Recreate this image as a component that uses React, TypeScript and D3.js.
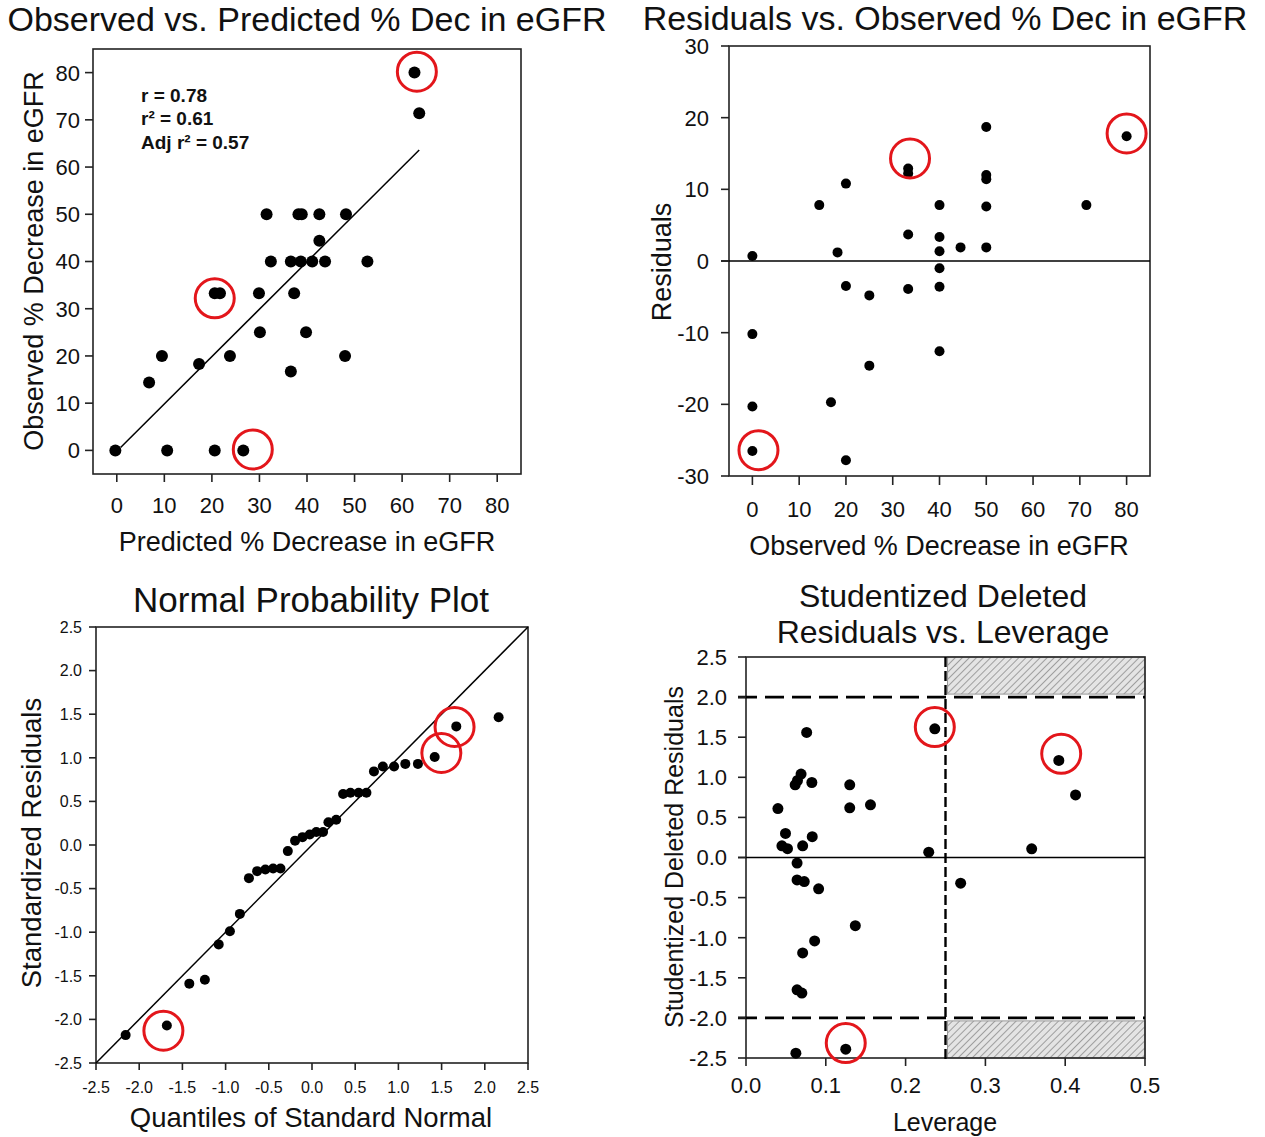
import React from 'react';
import * as d3 from 'd3';

const FONT = '"Liberation Sans", Arial, Helvetica, sans-serif';
const INK = '#111';
const RED = '#e3161b';

// ---------- Panel 1: Observed vs Predicted ----------
const p1Predicted = [62.6, 63.6, 31.5, 38.2, 38.9, 42.6, 48.2, 42.6, 32.4, 36.6, 38.7, 41.1, 43.8, 52.7, 20.6, 21.7, 29.9, 37.3, 30.1, 39.8, 9.5, 23.8, 48.0, 17.3, 36.6, 6.8, -0.3, 10.6, 20.6, 26.6];
const p1Observed = [80, 71.4, 50, 50, 50, 50, 50, 44.4, 40, 40, 40, 40, 40, 40, 33.3, 33.3, 33.3, 33.3, 25, 25, 20, 20, 20, 18.3, 16.7, 14.4, 0, 0, 0, 0];
const p1FitPredicted = [0.8, 63.6];
const p1FitObserved = [0.6, 63.6];
const p1Ticks = [0, 10, 20, 30, 40, 50, 60, 70, 80];
const p1Stats = ['r = 0.78', 'r² = 0.61', 'Adj r² = 0.57'];
const p1HighlightX = [63.1, 20.6, 28.6];
const p1HighlightY = [80.2, 32.2, 0.2];

// ---------- Panel 2: Residuals vs Observed ----------
const p2Observed = [0, 0, 0, 0, 14.3, 18.2, 16.8, 20, 20, 20, 25, 25, 33.3, 33.3, 33.3, 33.3, 40, 40, 40, 40, 40, 40, 44.5, 50, 50, 50, 50, 50, 71.4, 80];
const p2Residual = [0.7, -10.2, -20.3, -26.5, 7.8, 1.2, -19.7, 10.8, -3.5, -27.8, -4.8, -14.6, 12.9, 12.2, 3.7, -3.9, 7.8, 3.35, 1.35, -1.0, -3.6, -12.6, 1.9, 18.7, 12.0, 11.4, 7.6, 1.9, 7.8, 17.4];
const p2XTicks = [0, 10, 20, 30, 40, 50, 60, 70, 80];
const p2YTicks = [-30, -20, -10, 0, 10, 20, 30];
const p2HighlightX = [1.3, 33.7, 80];
const p2HighlightY = [-26.4, 14.3, 17.8];

// ---------- Panel 3: Normal probability plot ----------
const p3Quantile = [-2.157, -1.68, -1.42, -1.24, -1.08, -0.95, -0.835, -0.73, -0.635, -0.54, -0.45, -0.365, -0.28, -0.196, -0.11, -0.026, 0.05, 0.128, 0.19, 0.28, 0.36, 0.445, 0.54, 0.63, 0.717, 0.82, 0.95, 1.08, 1.226, 1.42, 1.67, 2.16];
const p3StdResid = [-2.18, -2.07, -1.59, -1.545, -1.14, -0.99, -0.79, -0.38, -0.30, -0.28, -0.27, -0.27, -0.07, 0.05, 0.09, 0.12, 0.15, 0.15, 0.26, 0.29, 0.585, 0.60, 0.60, 0.60, 0.844, 0.90, 0.90, 0.93, 0.93, 1.01, 1.36, 1.465];
const p3Ticks = [-2.5, -2.0, -1.5, -1.0, -0.5, 0.0, 0.5, 1.0, 1.5, 2.0, 2.5];
const p3RefLine = [-2.5, 2.5];
const p3HighlightX = [-1.72, 1.497, 1.65];
const p3HighlightY = [-2.13, 1.055, 1.353];

// ---------- Panel 4: Studentized deleted residuals vs leverage ----------
const p4Leverage = [0.040, 0.0495, 0.045, 0.052, 0.064, 0.0616, 0.0645, 0.069, 0.076, 0.0825, 0.071, 0.083, 0.064, 0.073, 0.091, 0.071, 0.086, 0.064, 0.070, 0.0625, 0.125, 0.130, 0.130, 0.156, 0.137, 0.229, 0.2366, 0.269, 0.358, 0.392, 0.413];
const p4StudRes = [0.61, 0.30, 0.146, 0.11, -0.07, 0.906, 0.96, 1.04, 1.56, 0.935, 0.146, 0.26, -0.28, -0.30, -0.39, -1.19, -1.04, -1.65, -1.69, -2.44, -2.39, 0.906, 0.62, 0.657, -0.85, 0.067, 1.605, -0.32, 0.108, 1.21, 0.78];
const p4XTicks = [0.0, 0.1, 0.2, 0.3, 0.4, 0.5];
const p4YTicks = [-2.5, -2.0, -1.5, -1.0, -0.5, 0.0, 0.5, 1.0, 1.5, 2.0, 2.5];
const p4ResidCut = [-2.0, 2.0];
const p4LeverageCut = 0.25;
const p4HighlightX = [0.2366, 0.395, 0.125];
const p4HighlightY = [1.626, 1.293, -2.314];

type Scale = d3.ScaleLinear<number, number>;

function Frame({ x, y }: { x: Scale; y: Scale }) {
  const [x0, x1] = x.range();
  const [y0, y1] = y.range();
  return (
    <rect x={x0} y={y1} width={x1 - x0} height={y0 - y1} fill="none" stroke="#222" strokeWidth={1.6} />
  );
}

function XAxis({ x, y, ticks, fmt, fontSize, labelY, tickLen = 8 }: { x: Scale; y: Scale; ticks: number[]; fmt: (v: number) => string; fontSize: number; labelY: number; tickLen?: number }) {
  const yb = y.range()[0];
  return (
    <g>
      {ticks.map((t) => (
        <g key={t}>
          <line x1={x(t)} x2={x(t)} y1={yb} y2={yb + tickLen} stroke="#222" strokeWidth={1.6} />
          <text x={x(t)} y={labelY} textAnchor="middle" fontSize={fontSize} fontFamily={FONT} fill={INK}>{fmt(t)}</text>
        </g>
      ))}
    </g>
  );
}

function YAxis({ x, y, ticks, fmt, fontSize, labelX, tickLen = 8 }: { x: Scale; y: Scale; ticks: number[]; fmt: (v: number) => string; fontSize: number; labelX: number; tickLen?: number }) {
  const xl = x.range()[0];
  return (
    <g>
      {ticks.map((t) => (
        <g key={t}>
          <line x1={xl - tickLen} x2={xl} y1={y(t)} y2={y(t)} stroke="#222" strokeWidth={1.6} />
          <text x={labelX} y={y(t)} dy="0.36em" textAnchor="end" fontSize={fontSize} fontFamily={FONT} fill={INK}>{fmt(t)}</text>
        </g>
      ))}
    </g>
  );
}

function Dots({ x, y, xs, ys, r }: { x: Scale; y: Scale; xs: number[]; ys: number[]; r: number }) {
  return (
    <g>
      {xs.map((v, i) => (
        <circle key={i} cx={x(v)} cy={y(ys[i])} r={r} fill="#000" />
      ))}
    </g>
  );
}

function Highlights({ x, y, xs, ys }: { x: Scale; y: Scale; xs: number[]; ys: number[] }) {
  return (
    <g>
      {xs.map((v, i) => (
        <circle key={i} cx={x(v)} cy={y(ys[i])} r={19.5} fill="none" stroke={RED} strokeWidth={3} />
      ))}
    </g>
  );
}

function Title({ x, y, lines, size = 34 }: { x: number; y: number; lines: string[]; size?: number }) {
  return (
    <text x={x} y={y} textAnchor="middle" fontSize={size} fontFamily={FONT} fill={INK}>
      {lines.map((l, i) => (
        <tspan key={i} x={x} dy={i === 0 ? 0 : 36}>{l}</tspan>
      ))}
    </text>
  );
}

function VLabel({ x, y, text, size }: { x: number; y: number; text: string; size: number }) {
  return (
    <text transform={`translate(${x},${y}) rotate(-90)`} textAnchor="middle" fontSize={size} fontFamily={FONT} fill={INK}>{text}</text>
  );
}

export default function App() {
  const int = (v: number) => String(Math.round(v));
  const one = (v: number) => v.toFixed(1);

  // panel 1
  const x1 = d3.scaleLinear().domain([-5, 85]).range([93, 521]);
  const y1 = d3.scaleLinear().domain([-5, 85]).range([474, 49]);
  const fit1 = d3.line<number>().x((d) => x1(d)).y((_, i) => y1(p1FitObserved[i]))(p1FitPredicted) || '';

  // panel 2
  const x2 = d3.scaleLinear().domain([-5, 85]).range([729, 1150]);
  const y2 = d3.scaleLinear().domain([-30, 30]).range([476, 46]);

  // panel 3
  const x3 = d3.scaleLinear().domain([-2.5, 2.5]).range([96, 528]);
  const y3 = d3.scaleLinear().domain([-2.5, 2.5]).range([1063, 627]);
  const ref3 = d3.line<number>().x((d) => x3(d)).y((d) => y3(d))(p3RefLine) || '';

  // panel 4
  const x4 = d3.scaleLinear().domain([0, 0.5]).range([746, 1145]);
  const y4 = d3.scaleLinear().domain([-2.5, 2.5]).range([1058, 657]);

  return (
    <svg width={1265} height={1137} style={{ position: 'absolute', left: 0, top: 0, background: '#fff' }}>
      <defs>
        <pattern id="hatch" patternUnits="userSpaceOnUse" width={5} height={5} patternTransform="rotate(45)">
          <rect width={5} height={5} fill="#e4e4e4" />
          <line x1={0} y1={0} x2={0} y2={5} stroke="#8c8c8c" strokeWidth={1.6} />
        </pattern>
      </defs>
      <rect x={0} y={0} width={1265} height={1137} fill="#fff" />

      {/* ---------- Panel 1 ---------- */}
      <Title x={307} y={31} lines={['Observed vs. Predicted % Dec in eGFR']} />
      <Frame x={x1} y={y1} />
      <XAxis x={x1} y={y1} ticks={p1Ticks} fmt={int} fontSize={22} labelY={513} />
      <YAxis x={x1} y={y1} ticks={p1Ticks} fmt={int} fontSize={22} labelX={80} />
      <path d={fit1} stroke="#000" strokeWidth={1.5} fill="none" />
      <Dots x={x1} y={y1} xs={p1Predicted} ys={p1Observed} r={6} />
      <Highlights x={x1} y={y1} xs={p1HighlightX} ys={p1HighlightY} />
      {p1Stats.map((s, i) => (
        <text key={i} x={141} y={101.5 + i * 23.7} fontSize={19} fontWeight="bold" fontFamily={FONT} fill={INK}>{s}</text>
      ))}
      <text x={307} y={551} textAnchor="middle" fontSize={27} fontFamily={FONT} fill={INK}>Predicted % Decrease in eGFR</text>
      <VLabel x={43} y={261} text="Observed % Decrease in eGFR" size={27} />

      {/* ---------- Panel 2 ---------- */}
      <Title x={945} y={30} lines={['Residuals vs. Observed % Dec in eGFR']} />
      <Frame x={x2} y={y2} />
      <line x1={x2.range()[0] - 8} x2={x2.range()[1]} y1={y2(0)} y2={y2(0)} stroke="#000" strokeWidth={1.6} />
      <XAxis x={x2} y={y2} ticks={p2XTicks} fmt={int} fontSize={22} labelY={517} tickLen={9} />
      <YAxis x={x2} y={y2} ticks={p2YTicks} fmt={int} fontSize={22} labelX={709} />
      <Dots x={x2} y={y2} xs={p2Observed} ys={p2Residual} r={5} />
      <Highlights x={x2} y={y2} xs={p2HighlightX} ys={p2HighlightY} />
      <text x={939} y={555} textAnchor="middle" fontSize={27} fontFamily={FONT} fill={INK}>Observed % Decrease in eGFR</text>
      <VLabel x={671} y={262} text="Residuals" size={27} />

      {/* ---------- Panel 3 ---------- */}
      <Title x={311} y={612} lines={['Normal Probability Plot']} size={35} />
      <Frame x={x3} y={y3} />
      <XAxis x={x3} y={y3} ticks={p3Ticks} fmt={one} fontSize={16} labelY={1093} tickLen={7} />
      <YAxis x={x3} y={y3} ticks={p3Ticks} fmt={one} fontSize={16} labelX={82} tickLen={7} />
      <path d={ref3} stroke="#000" strokeWidth={1.5} fill="none" />
      <Dots x={x3} y={y3} xs={p3Quantile} ys={p3StdResid} r={5} />
      <Highlights x={x3} y={y3} xs={p3HighlightX} ys={p3HighlightY} />
      <text x={311} y={1127} textAnchor="middle" fontSize={27.5} fontFamily={FONT} fill={INK}>Quantiles of Standard Normal</text>
      <VLabel x={41} y={843} text="Standardized Residuals" size={27.5} />

      {/* ---------- Panel 4 ---------- */}
      <Title x={943} y={607} lines={['Studentized Deleted', 'Residuals vs. Leverage']} size={32} />
      <rect x={x4(p4LeverageCut) + 2} y={y4(2.5)} width={x4(0.5) - x4(p4LeverageCut) - 2} height={y4(p4ResidCut[1]) - y4(2.5) - 3} fill="url(#hatch)" stroke="#999" strokeWidth={1} />
      <rect x={x4(p4LeverageCut) + 2} y={y4(p4ResidCut[0]) + 3} width={x4(0.5) - x4(p4LeverageCut) - 2} height={y4(-2.5) - y4(p4ResidCut[0]) - 3} fill="url(#hatch)" stroke="#999" strokeWidth={1} />
      <Frame x={x4} y={y4} />
      <line x1={x4.range()[0] - 8} x2={x4.range()[1]} y1={y4(0)} y2={y4(0)} stroke="#000" strokeWidth={1.6} />
      {p4ResidCut.map((c) => (
        <line key={c} x1={x4.range()[0] - 8} x2={x4.range()[1]} y1={y4(c)} y2={y4(c)} stroke="#000" strokeWidth={2.6} strokeDasharray="19,8" />
      ))}
      <line x1={x4(p4LeverageCut)} x2={x4(p4LeverageCut)} y1={y4(2.5)} y2={y4(-2.5) + 5} stroke="#000" strokeWidth={2.4} strokeDasharray="10,4" />
      <XAxis x={x4} y={y4} ticks={p4XTicks} fmt={one} fontSize={22} labelY={1093} />
      <YAxis x={x4} y={y4} ticks={p4YTicks} fmt={one} fontSize={22} labelX={727} />
      <Dots x={x4} y={y4} xs={p4Leverage} ys={p4StudRes} r={5.5} />
      <Highlights x={x4} y={y4} xs={p4HighlightX} ys={p4HighlightY} />
      <text x={945} y={1131} textAnchor="middle" fontSize={25} fontFamily={FONT} fill={INK}>Leverage</text>
      <VLabel x={683} y={857} text="Studentized Deleted Residuals" size={25} />
    </svg>
  );
}
